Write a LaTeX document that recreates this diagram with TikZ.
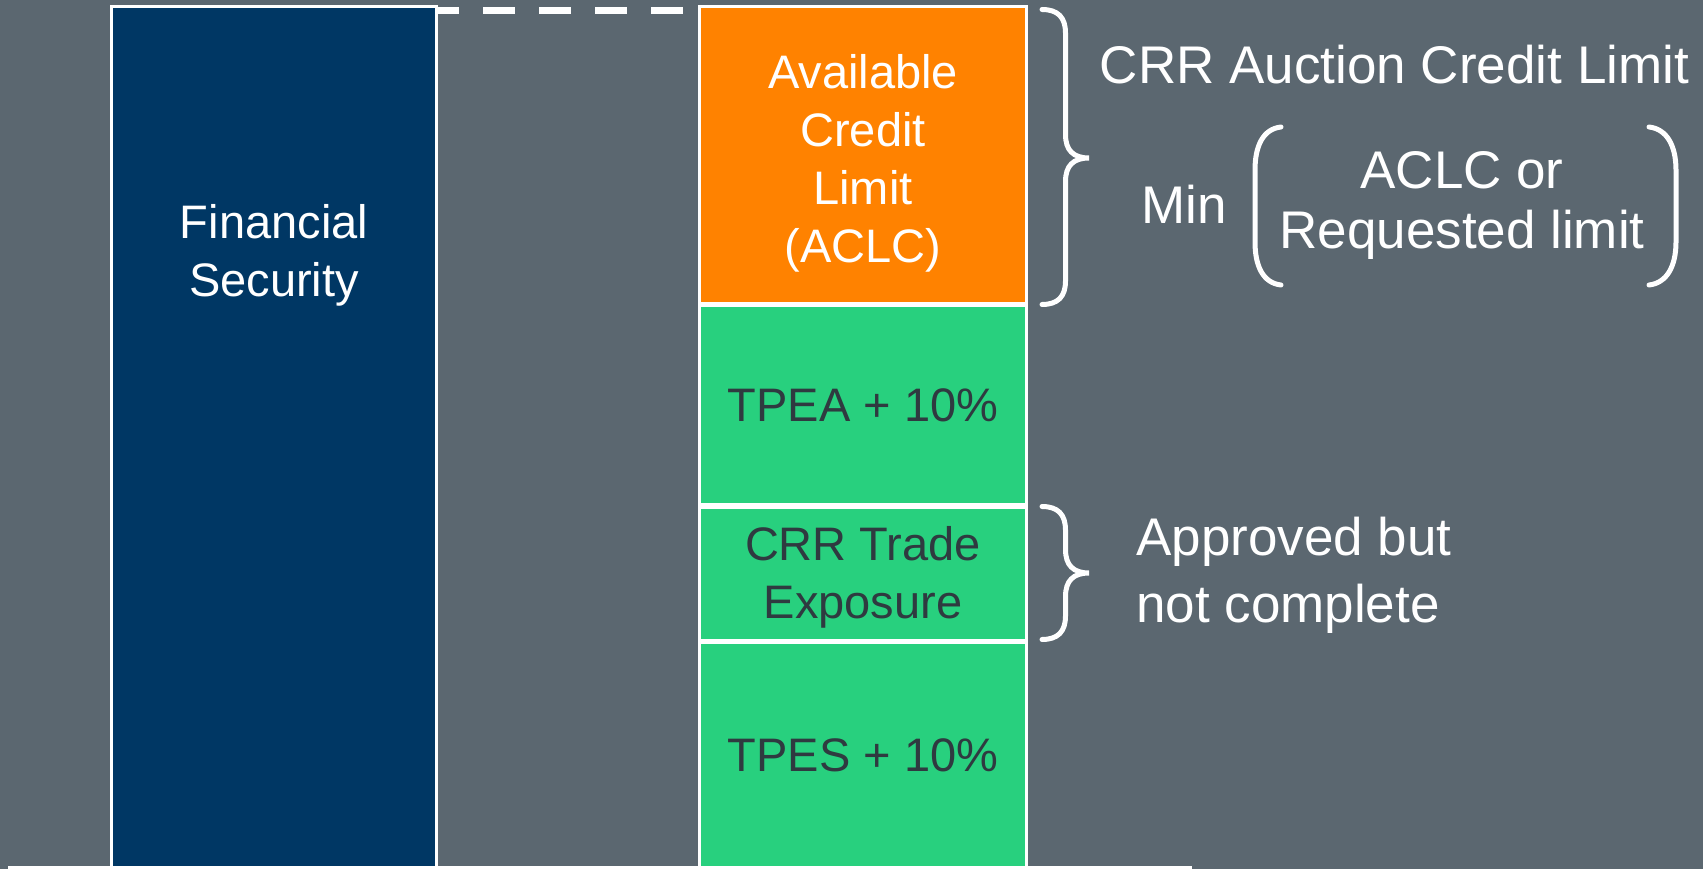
\documentclass[tikz,border=0pt]{standalone}
\usepackage{fontspec}
\setmainfont{Liberation Sans}
\usetikzlibrary{positioning,calc}
\definecolor{slate}{HTML}{5B6770}
\definecolor{navy}{HTML}{003764}
\definecolor{amber}{HTML}{FF8200}
\definecolor{mint}{HTML}{28D07E}
\definecolor{ink}{HTML}{2F3A40}
\newcommand{\boxfont}{\fontsize{47}{58}\selectfont}
\newcommand{\sidefont}{\fontsize{53}{61}\selectfont}
% curly brace opening to the right: left x, top, tip, bottom
\newcommand{\sidebrace}[4]{%
  \draw[curl] (#1,#2) .. controls (#1+16,#2) and (#1+23.5,#2+8) .. (#1+23.5,#2+23.5)
    -- (#1+23.5,#3-23.5) .. controls (#1+23.5,#3-8) and (#1+31,#3) .. (#1+47,#3)
    .. controls (#1+31,#3) and (#1+23.5,#3+8) .. (#1+23.5,#3+23.5)
    -- (#1+23.5,#4-23.5) .. controls (#1+23.5,#4-8) and (#1+16,#4) .. (#1,#4);}
\tikzset{
  bar/.style={draw=white,line width=2.8pt,minimum width=327.2pt,inner sep=0pt,align=center,font=\boxfont},
  sidetext/.style={text=white,inner sep=0pt,align=center,font=\sidefont},
  curl/.style={draw=white,line width=5pt,line cap=round},
  dashline/.style={draw=white,line width=7pt,dash pattern=on 32pt off 24pt,dash phase=11pt},
}
\begin{document}
\begin{tikzpicture}[x=1pt,y=-1pt]
\fill[slate] (0,0) rectangle (1703,869);
\useasboundingbox (0,0) rectangle (1703,869);
\clip (0,0) rectangle (1703,869);
% security bar
\node[bar,fill=navy,minimum width=325.2pt,minimum height=861.2pt,anchor=north west] (fs) at (110,5) {};
\node[bar,draw=none,text=white] (fstxt) at ($(fs.north)+(0,250)$) {Financial\\Security};
% credit stack
\node[bar,fill=amber,text=white,minimum height=296.7pt,right=260pt of fs.north east,anchor=north west] (aclc) {\rule{0pt}{51pt}Available\\Credit\\Limit\\(ACLC)};
\node[bar,fill=mint,text=ink,minimum height=198.7pt,below=0pt of aclc] (tpea) {TPEA + 10\%};
\node[bar,fill=mint,text=ink,minimum height=132.7pt,below=0pt of tpea] (crr) {\rule{0pt}{42pt}CRR Trade\\Exposure};
\node[bar,fill=mint,text=ink,minimum height=225pt,below=0pt of crr] (tpes) {TPES + 10\%};
\draw[dashline] ($(fs.north east)+(0,5.5)$) -- ($(aclc.north west)+(0,5.5)$);
\draw[white,line width=3pt] (8,867.5) -- (1192,867.5);
% braces and notes
\sidebrace{1042}{9.5}{158}{304.5}
\sidebrace{1042}{506.5}{573}{639.5}
\node[sidetext,anchor=base] (auction) at (1394.5,84) {CRR Auction Credit Limit};
\node[sidetext,anchor=base] (minw) at (1184,224) {Min};
\node[sidetext,anchor=base] (choice) at (1462,249) {ACLC or\\Requested limit};
\draw[curl] (1281,127) .. controls (1263,129) and (1255,146) .. (1255,170) -- (1255,242) .. controls (1255,266) and (1263,283) .. (1281,285);
\draw[curl] (1649,127) .. controls (1667,129) and (1676,146) .. (1676,170) -- (1676,242) .. controls (1676,266) and (1667,283) .. (1649,285);
\node[sidetext,anchor=base west,align=left,font=\fontsize{53}{67}\selectfont] (pend) at (1136,622) {Approved but\\not complete};
\end{tikzpicture}
\end{document}
